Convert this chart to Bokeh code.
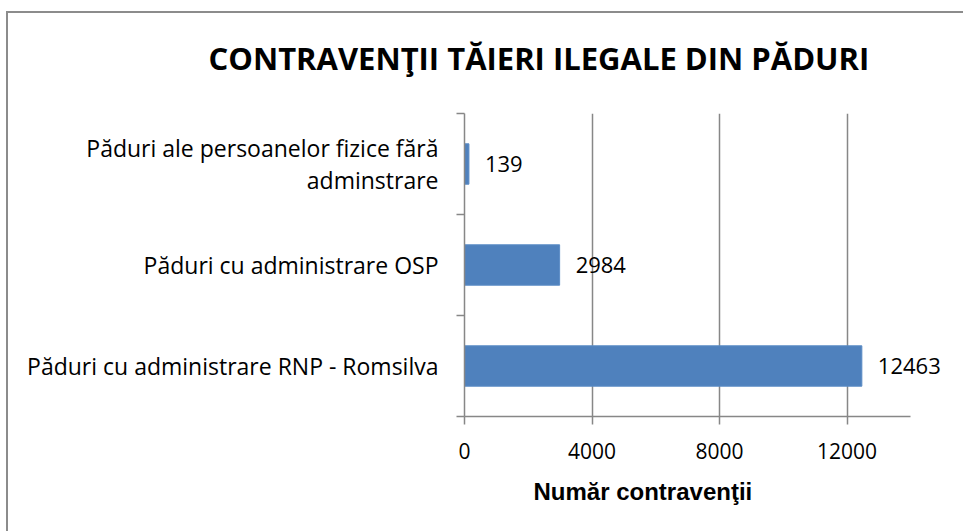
from bokeh.plotting import figure
from bokeh.models import Range1d, FixedTicker, Title, ColumnDataSource, LabelSet
from bokeh.core.properties import value
from bokeh.embed import file_html
from bokeh.resources import INLINE

# ---- data ----
categories = [
    "Păduri cu administrare RNP - Romsilva",
    "Păduri cu administrare OSP",
    "Păduri ale persoanelor fizice fără\nadminstrare",
]
values = [12463, 2984, 139]
x_ticks = [0, 4000, 8000, 12000]
x_max = 14000
title_text = "CONTRAVENŢII TĂIERI ILEGALE DIN PĂDURI"
x_label = "Număr contravenţii"

n = len(categories)
centers = [i + 0.5 for i in range(n)]
bounds = list(range(n + 1))

src = ColumnDataSource(dict(y=centers, v=values, lab=[str(v) for v in values]))

FONT = "Open Sans"
GRAY = "#878787"
BORDER = "#8c8c8c"

# the visible x axis stops at x_max; the frame runs a little further so value labels are not clipped
p = figure(width=963, height=531, x_range=Range1d(0, x_max * 1.1), y_range=Range1d(0, n),
           output_backend="svg", toolbar_location=None,
           min_border_left=464, min_border_right=8, min_border_top=112, min_border_bottom=115)
p.outline_line_color = None
p.background_fill_color = "white"
p.border_fill_color = None

p.hbar(y="y", left=0, right="v", height=0.4, source=src,
       fill_color="#4F81BD", line_color="#5B8CC6", line_width=1)
labels = LabelSet(x="v", y="y", text="lab", source=src, x_offset=16,
                  text_align="left", text_baseline="middle",
                  text_font=value(FONT), text_font_size="22px", text_color="black")
p.add_layout(labels)

# x axis
xa = p.xaxis[0]
xa.bounds = (0, x_max)
xa.ticker = FixedTicker(ticks=x_ticks)
xa.major_tick_out = 8
xa.major_tick_in = 0
xa.minor_tick_line_color = None
xa.axis_line_color = GRAY
xa.major_tick_line_color = GRAY
xa.axis_line_width = 1.5
xa.major_tick_line_width = 1.5
xa.major_label_text_font = FONT
xa.major_label_text_font_size = "21px"
xa.major_label_text_color = "black"
xa.major_label_standoff = 18

# y axis
ya = p.yaxis[0]
ya.ticker = FixedTicker(ticks=centers, minor_ticks=bounds)
ya.major_label_overrides = {c: t for c, t in zip(centers, categories)}
ya.major_tick_out = 0
ya.major_tick_in = 0
ya.major_tick_line_color = None
ya.minor_tick_out = 8
ya.minor_tick_in = 0
ya.minor_tick_line_color = GRAY
ya.minor_tick_line_width = 1.5
ya.axis_line_color = GRAY
ya.axis_line_width = 1.5
ya.major_label_text_font = FONT
ya.major_label_text_font_size = "23px"
ya.major_label_text_color = "black"
ya.major_label_text_line_height = 1.0
ya.major_label_text_align = "center"
ya.major_label_standoff = 18

p.xgrid.ticker = FixedTicker(ticks=x_ticks)
p.xgrid.grid_line_color = GRAY
p.xgrid.grid_line_width = 1.5
p.ygrid.grid_line_color = None

t = Title(text=title_text, align="left", offset=-256, text_font=FONT,
          text_font_size="31px", text_font_style="bold", text_color="black", standoff=69)
p.add_layout(t, "above")

xl = Title(text=x_label, align="left", offset=69, text_font="Liberation Sans",
           text_font_size="24px", text_font_style="bold", text_color="black", standoff=28)
p.add_layout(xl, "below")

# chart-area border (top and left edges, the others fall outside the picture)
p.styles = {
    "background": (f"linear-gradient({BORDER},{BORDER}) 6px 11px / 100% 2px no-repeat, "
                   f"linear-gradient({BORDER},{BORDER}) 6px 11px / 2px 100% no-repeat, #ffffff"),
}

open("out.html", "w").write(file_html(p, INLINE))
